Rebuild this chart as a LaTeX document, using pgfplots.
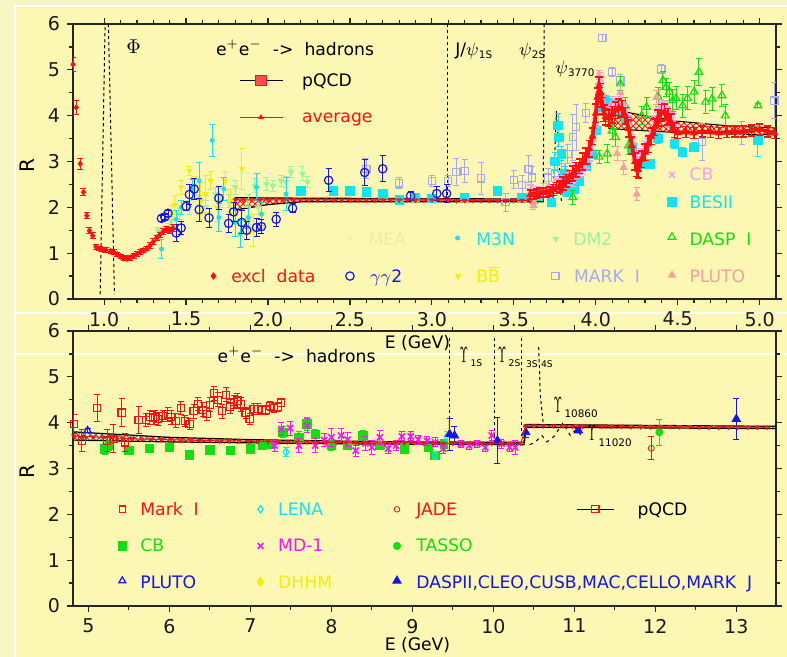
\documentclass[border=0pt]{standalone}
\usepackage{pgfplots}
\pgfplotsset{compat=1.18}
\usepackage{fontspec}
\setmainfont{DejaVu Sans}
\usetikzlibrary{patterns}
\definecolor{bgin}{HTML}{FCF8B3}
\definecolor{bgout}{HTML}{F9F6C6}
\definecolor{lav}{HTML}{A8A8F0}
\definecolor{cy}{HTML}{10E4F0}
\definecolor{lgreen}{HTML}{A0F0A0}
\definecolor{yel}{HTML}{F4EE00}
\definecolor{grn}{HTML}{10E010}
\definecolor{salmon}{HTML}{F5A0A0}
\definecolor{pinkcb}{HTML}{F5A0E8}
\definecolor{mea}{HTML}{F3ECA0}
\definecolor{mag}{HTML}{FF10FF}
\definecolor{bl}{HTML}{1414F0}
\definecolor{rd}{HTML}{FF1010}
\newcommand{\tf}{\fontsize{8.6}{10}\selectfont}
\newcommand{\subf}{\fontsize{5.2}{6}\selectfont}
\newcommand{\subg}{\fontsize{4.6}{5}\selectfont}
\newcommand{\ups}{{\fontsize{11}{11}\selectfont\scalebox{0.5}[1]{$\Upsilon$}}}
\pgfplotsset{
  rax/.style={scale only axis, width=351.5pt, height=137.5pt,
    ymin=0, ymax=6, ytick={0,1,...,6}, minor y tick num=1,
    axis line style={black!85, line width=0.6pt},
    tick style={black!85, line width=0.6pt},
    tick align=outside, major tick length=3pt, minor tick length=2pt,
    ticklabel style={font=\fontsize{9.5}{10}\selectfont, black!90},
    /pgf/number format/assume math mode=true, clip=true, clip mode=individual},
  ser/.style={only marks, mark options={solid},
    error bars/y dir=both, error bars/y explicit,
    error bars/error bar style={line width=0.5pt, solid},
    error bars/error mark options={rotate=90, line width=0.5pt, mark size=1.5pt}},
}
\begin{document}
\begin{tikzpicture}
\useasboundingbox (0,0) rectangle (393.5pt,328.5pt);
\fill[bgout] (0,0) rectangle (393.5pt,328.5pt);
\fill[bgin] (7.5pt,0) rectangle (393.5pt,325.5pt);
\draw[white, line width=0.7pt] (7.5pt,0) -- (7.5pt,325.5pt) -- (393.5pt,325.5pt);
\draw[white, line width=0.7pt] (7.5pt,172pt) -- (393.5pt,172pt);
\draw[white, line width=0.7pt] (7.5pt,151.5pt) -- (393.5pt,151.5pt);

% ================= TOP PANEL =================
\begin{axis}[rax, at={(36.5pt,179pt)}, anchor=south west,
  xmin=0.81, xmax=5.1, xtick={1,1.5,2,2.5,3,3.5,4,4.5,5}, minor x tick num=4,
  xticklabel={\pgfmathprintnumber[fixed,fixed zerofill,precision=1]{\tick}}]

% resonance dashed lines
\addplot[black, dash pattern=on 1.6pt off 1.4pt, line width=0.5pt] coordinates {(0.976,0.1) (1.006,6.0)};
\addplot[black, dash pattern=on 1.6pt off 1.4pt, line width=0.5pt] coordinates {(1.026,6.0) (1.063,0.1)};
\addplot[black, dash pattern=on 1.6pt off 1.4pt, line width=0.5pt] coordinates {(3.097,6.0) (3.097,2.25)};
\addplot[black, dash pattern=on 1.6pt off 1.4pt, line width=0.5pt] coordinates {(3.685,6.0) (3.680,2.25)};
\addplot[black, dash pattern=on 1.6pt off 1.4pt, line width=0.5pt] coordinates {(3.74,2.2) (3.76,4.1) (3.79,2.14)};

% pQCD bands
\addplot[draw=black, line width=0.6pt, pattern=crosshatch, pattern color=rd] coordinates {(1.8,2.21) (2.2,2.20) (3.68,2.18) (3.68,2.12) (2.2,2.12) (2.0,2.06) (1.8,1.94)} -- cycle;
\addplot[draw=black, line width=0.5pt, pattern=crosshatch, pattern color=rd] coordinates {(4.08,4.15) (4.3,4.0) (4.5,3.88) (4.8,3.78) (5.1,3.73) (5.1,3.58) (4.8,3.60) (4.5,3.63) (4.3,3.67) (4.08,3.72)} -- cycle;

% DM2
\addplot[lgreen, ser, mark=triangle*, mark size=1.6pt, mark options={rotate=180}] table[x=x,y=y,y error=e] {
x y e
1.33 1.49 0.08
1.39 1.56 0.08
1.41 1.70 0.10
1.46 1.86 0.12
1.52 2.00 0.15
1.58 2.22 0.15
1.62 2.00 0.15
1.68 2.29 0.15
1.71 2.14 0.15
1.76 2.14 0.15
1.80 2.44 0.15
1.88 2.14 0.15
1.92 2.47 0.15
1.94 2.00 0.15
1.99 2.51 0.15
2.03 2.47 0.12
2.08 2.58 0.12
2.11 2.55 0.12
2.14 2.76 0.12
2.21 2.73 0.15
2.24 2.55 0.12
};
% BBbar
\addplot[yel, ser, mark=triangle*, mark size=1.5pt, mark options={rotate=180}] table[x=x,y=y,y error=e] {
x y e
1.41 1.90 0.15
1.43 2.05 0.20
1.47 2.44 0.15
1.52 2.80 0.10
1.55 2.47 0.20
1.59 2.14 0.40
1.62 2.29 0.40
1.65 2.58 0.20
1.69 2.00 0.30
1.74 2.58 0.20
1.77 2.14 0.25
1.84 2.84 0.45
1.88 1.71 0.30
1.91 1.49 0.35
1.96 1.85 0.30
};
% M3N
\addplot[cy, ser, mark=*, mark size=1pt] table[x=x,y=y,y error=e] {
x y e
1.35 1.09 0.20
1.44 1.74 0.20
1.47 2.00 0.15
1.54 2.40 0.20
1.58 2.58 0.40
1.66 3.46 0.35
1.70 1.78 0.30
1.73 2.40 0.25
1.80 1.67 0.30
1.83 1.42 0.30
1.88 1.78 0.25
1.93 2.44 0.30
1.96 1.85 0.25
2.11 2.29 0.35
};
% MARK I
\addplot[lav, ser, mark=square, mark size=1.8pt, mark options={line width=0.6pt}] table[x=x,y=y,y error=e] {
x y e
2.60 2.84 0.22
2.80 2.52 0.12
3.00 2.58 0.12
3.10 2.58 0.12
3.15 2.77 0.30
3.20 2.79 0.25
3.30 2.63 0.35
3.45 2.11 0.20
3.50 2.60 0.20
3.55 2.49 0.20
3.59 2.84 0.30
3.61 2.65 0.25
3.71 2.65 0.20
3.75 2.75 0.20
3.79 2.87 0.20
3.83 3.16 0.20
3.86 3.53 0.50
3.88 3.75 0.50
3.94 4.06 0.20
4.04 5.70 0.08
4.10 4.95 0.10
4.15 4.77 0.12
4.40 5.01 0.10
4.45 3.83 0.15
4.65 3.42 0.40
4.89 3.62 0.25
5.09 4.33 0.40
};
% BESII
\addplot[cy, ser, mark=square*, mark size=2.1pt] table[x=x,y=y,y error=e] {
x y e
2.20 2.36 0.05
2.40 2.36 0.05
2.50 2.36 0.05
2.60 2.34 0.05
2.70 2.29 0.05
2.80 2.16 0.05
2.90 2.22 0.05
3.00 2.20 0.05
3.20 2.22 0.08
3.40 2.36 0.10
3.55 2.22 0.06
3.65 2.25 0.05
3.73 2.11 0.05
3.75 3.00 0.20
3.77 3.79 0.25
3.775 3.53 0.20
3.79 3.17 0.15
3.81 2.73 0.15
3.82 2.36 0.12
3.83 2.47 0.10
3.87 2.40 0.10
3.90 2.58 0.10
3.94 2.90 0.10
3.98 3.16 0.10
4.00 3.68 0.10
4.03 4.20 0.10
4.06 4.33 0.10
4.10 4.27 0.10
4.14 4.10 0.10
4.18 3.90 0.10
4.22 3.30 0.10
4.27 2.95 0.10
4.33 2.95 0.10
4.38 3.50 0.10
4.48 3.39 0.10
4.53 3.20 0.10
4.60 3.31 0.10
4.99 3.46 0.35
};
% DASP I
\addplot[grn, ser, mark=triangle, mark size=2.2pt, mark options={line width=0.6pt}] table[x=x,y=y,y error=e] {
x y e
3.62 2.14 0.08
3.86 2.22 0.15
4.02 3.10 0.15
4.07 3.17 0.20
4.10 3.67 0.20
4.12 3.53 0.20
4.15 4.70 0.15
4.18 4.20 0.20
4.20 3.35 0.20
4.28 4.00 0.20
4.31 4.19 0.20
4.38 4.41 0.20
4.41 4.77 0.20
4.43 4.62 0.20
4.45 4.52 0.20
4.47 4.33 0.25
4.49 4.38 0.25
4.53 4.22 0.25
4.56 4.38 0.25
4.60 4.52 0.25
4.63 4.95 0.30
4.67 4.30 0.25
4.71 4.37 0.25
4.77 4.44 0.25
4.79 4.00 0.25
4.99 4.22 0.05
};
% PLUTO (top)
\addplot[salmon, ser, mark=triangle*, mark size=2pt] table[x=x,y=y,y error=e] {
x y e
3.62 2.14 0.08
3.62 2.04 0.08
4.02 4.88 0.10
4.10 4.26 0.15
4.13 3.17 0.15
4.15 4.50 0.15
4.17 2.87 0.15
4.25 2.29 0.15
4.37 4.40 0.15
};
% CB (top)
\addplot[pinkcb, ser, mark=x, mark size=2.4pt, mark options={line width=0.9pt}, error bars/error mark options={rotate=90, line width=0.7pt, mark size=1.8pt}] table[x=x,y=y,y error=e] {
x y e
3.60 2.35 0.14
3.64 2.32 0.14
3.68 2.38 0.14
3.72 2.42 0.14
3.76 2.48 0.14
3.80 2.56 0.14
3.84 2.62 0.14
3.86 2.60 0.14
3.88 2.78 0.14
3.90 2.80 0.14
3.92 2.85 0.14
3.94 3.00 0.14
3.96 3.15 0.14
3.98 3.40 0.14
4.00 3.80 0.14
4.02 4.55 0.14
4.03 4.80 0.14
4.04 4.35 0.14
4.06 4.10 0.14
4.08 4.05 0.14
4.10 4.15 0.14
4.12 4.22 0.14
4.14 4.28 0.14
4.16 4.20 0.14
4.18 4.10 0.14
4.20 3.85 0.14
4.22 3.45 0.14
4.24 3.10 0.14
4.26 2.95 0.14
4.28 3.15 0.14
4.30 3.30 0.14
4.32 3.45 0.14
4.34 3.65 0.14
4.36 3.85 0.14
4.38 4.02 0.14
4.40 4.15 0.14
4.42 4.18 0.14
4.44 4.05 0.14
4.46 3.92 0.14
4.48 3.75 0.14
};
% gamma gamma 2
\addplot[bl, ser, mark=o, mark size=2.1pt, mark options={line width=0.6pt}] table[x=x,y=y,y error=e] {
x y e
1.35 1.76 0.06
1.37 1.79 0.06
1.39 1.87 0.06
1.44 1.44 0.18
1.47 1.55 0.15
1.50 2.02 0.10
1.52 2.28 0.22
1.55 2.40 0.22
1.58 1.95 0.25
1.64 1.77 0.20
1.70 2.20 0.25
1.76 1.65 0.20
1.79 1.90 0.20
1.84 1.67 0.25
1.87 1.50 0.20
1.93 1.56 0.20
1.96 1.58 0.15
2.05 1.74 0.15
2.15 1.98 0.10
2.37 2.59 0.25
2.59 2.76 0.28
2.70 2.84 0.28
2.87 2.25 0.10
3.03 2.30 0.15
3.09 2.30 0.20
};
% excl data (low energy)
\addplot[rd, ser, mark=diamond*, mark size=1.4pt] table[x=x,y=y,y error=e] {
x y e
0.81 5.12 0.15
0.83 4.18 0.15
0.854 2.95 0.12
0.874 2.33 0.08
0.894 1.82 0.06
0.91 1.49 0.06
0.93 1.38 0.06
0.95 1.14 0.05
0.97 1.10 0.05
0.99 1.08 0.05
1.01 1.07 0.05
1.04 1.04 0.05
1.06 1.02 0.05
1.08 0.97 0.05
1.10 0.93 0.05
1.12 0.89 0.05
1.14 0.88 0.05
1.16 0.90 0.05
1.18 0.94 0.05
1.20 0.98 0.05
1.22 1.02 0.05
1.24 1.06 0.05
1.26 1.10 0.05
1.28 1.17 0.06
1.30 1.25 0.06
1.32 1.33 0.06
1.34 1.40 0.06
1.36 1.47 0.06
1.38 1.52 0.06
1.40 1.50 0.07
1.42 1.55 0.08
};
% excl data / average in charm region
\addplot[rd, line width=1.8pt, mark=triangle*, mark size=1.8pt, mark options={solid, line width=0.5pt},
  error bars/y dir=both, error bars/y explicit, error bars/error bar style={line width=0.8pt},
  error bars/error mark options={rotate=90, line width=0.8pt, mark size=1.8pt}] table[x=x,y=y,y error=e] {
x y e
3.60 2.28 0.10
3.62 2.28 0.10
3.64 2.30 0.10
3.66 2.32 0.10
3.68 2.32 0.10
3.70 2.33 0.10
3.72 2.35 0.10
3.74 2.38 0.12
3.76 2.42 0.12
3.78 2.46 0.12
3.80 2.52 0.14
3.82 2.58 0.14
3.84 2.66 0.14
3.86 2.74 0.16
3.88 2.82 0.16
3.90 2.90 0.16
3.92 3.00 0.18
3.94 3.12 0.18
3.96 3.28 0.18
3.98 3.55 0.18
4.00 4.05 0.20
4.01 4.40 0.20
4.02 4.65 0.20
4.03 4.50 0.20
4.04 4.22 0.18
4.05 4.05 0.18
4.06 3.98 0.18
4.08 3.95 0.18
4.10 4.02 0.18
4.12 4.12 0.18
4.14 4.18 0.18
4.16 4.15 0.18
4.18 4.00 0.18
4.20 3.72 0.18
4.22 3.35 0.18
4.24 3.00 0.18
4.25 2.85 0.18
4.26 2.82 0.18
4.28 3.05 0.18
4.30 3.20 0.18
4.32 3.38 0.18
4.34 3.55 0.18
4.36 3.75 0.18
4.38 3.95 0.18
4.40 4.06 0.18
4.42 4.08 0.18
4.44 3.98 0.18
4.46 3.85 0.18
4.48 3.68 0.16
4.50 3.62 0.12
4.55 3.64 0.12
4.60 3.62 0.12
4.65 3.66 0.12
4.70 3.64 0.12
4.75 3.62 0.12
4.80 3.64 0.12
4.85 3.65 0.12
4.90 3.66 0.12
4.95 3.68 0.12
5.00 3.70 0.12
5.05 3.66 0.12
5.09 3.62 0.12
};
% average along pQCD
\addplot[rd, line width=0.5pt, mark=triangle, mark size=1.1pt, mark options={solid, rotate=180}] table[x=x,y=y] {
x y
1.80 2.16
1.85 2.16
1.90 2.16
1.95 2.16
2.00 2.16
2.05 2.16
2.10 2.16
2.15 2.16
2.20 2.16
2.25 2.16
2.30 2.16
2.35 2.16
2.40 2.16
2.45 2.16
2.50 2.16
2.55 2.16
2.60 2.16
2.65 2.16
2.70 2.16
2.75 2.16
2.80 2.16
2.85 2.16
2.90 2.16
2.95 2.16
3.00 2.16
3.05 2.16
3.10 2.16
3.15 2.15
3.20 2.15
3.25 2.15
3.30 2.15
3.35 2.15
3.40 2.15
3.45 2.15
3.50 2.15
3.55 2.15
3.60 2.15
};

% legend symbols (top)
\addplot[black, line width=0.6pt] coordinates {(1.829,4.77) (2.09,4.77)};
\addplot[only marks, mark=square*, mark size=2.6pt, mark options={draw=rd, fill=rd!75}] coordinates {(1.957,4.77)};
\addplot[rd, line width=0.6pt] coordinates {(1.829,3.96) (2.09,3.96)};
\addplot[rd, only marks, mark=triangle*, mark size=1.3pt] coordinates {(1.957,3.96)};
\addplot[rd, only marks, mark=diamond*, mark size=1.6pt] coordinates {(1.667,0.50)};
\addplot[bl, only marks, mark=o, mark size=2.1pt, mark options={line width=0.6pt}] coordinates {(2.50,0.50)};
\addplot[mea, only marks, mark=+, mark size=1.5pt] coordinates {(2.50,1.33)};
\addplot[cy, only marks, mark=*, mark size=1pt] coordinates {(3.157,1.33)};
\addplot[yel, only marks, mark=triangle*, mark size=1.5pt, mark options={rotate=180}] coordinates {(3.16,0.50)};
\addplot[lgreen, only marks, mark=triangle*, mark size=1.5pt, mark options={rotate=180}] coordinates {(3.756,1.31)};
\addplot[lav, only marks, mark=square, mark size=1.8pt, mark options={line width=0.6pt}] coordinates {(3.754,0.50)};
\addplot[grn, only marks, mark=triangle, mark size=2.2pt, mark options={line width=0.6pt}] coordinates {(4.465,1.35)};
\addplot[salmon, only marks, mark=triangle*, mark size=2pt] coordinates {(4.465,0.52)};
\addplot[pinkcb, only marks, mark=x, mark size=2.2pt, mark options={line width=0.8pt}] coordinates {(4.465,2.71)};
\addplot[cy, only marks, mark=square*, mark size=2.1pt] coordinates {(4.465,2.12)};

% texts (top)
\node[anchor=base west, font=\fontsize{10}{10}\selectfont] at (axis cs:1.093,5.35) {$\Phi$};
\node[anchor=base west, font=\tf] at (axis cs:1.64,5.32) {e$^{+}$e$^{-}$\ \ ->\ \ hadrons};
\node[anchor=base west, font=\tf] at (axis cs:2.165,4.64) {pQCD};
\node[anchor=base west, font=\tf, text=rd] at (axis cs:2.165,3.84) {average};
\node[anchor=base west, font=\tf] at (axis cs:3.10,5.32) {J/$\psi$\raisebox{-1.5pt}{\subf 1S}};
\node[anchor=base west, font=\tf] at (axis cs:3.49,5.32) {$\psi$\raisebox{-1.5pt}{\subf 2S}};
\node[anchor=base west, font=\tf] at (axis cs:3.71,4.92) {$\psi$\raisebox{-1.5pt}{\subf 3770}};
\node[anchor=base west, font=\tf, text=mea] at (axis cs:2.571,1.16) {MEA};
\node[anchor=base west, font=\tf, text=cy] at (axis cs:3.228,1.16) {M3N};
\node[anchor=base west, font=\tf, text=lgreen] at (axis cs:3.82,1.16) {DM2};
\node[anchor=base west, font=\tf, text=grn] at (axis cs:4.529,1.16) {DASP\ \ I};
\node[anchor=base west, font=\tf, text=rd] at (axis cs:1.733,0.357) {excl\ \ data};
\node[anchor=base west, font=\tf, text=bl] at (axis cs:2.58,0.357) {$\gamma\gamma$2};
\node[anchor=base west, font=\tf, text=yel] at (axis cs:3.228,0.357) {B$\overline{\hbox{B}}$};
\node[anchor=base west, font=\tf, text=lav] at (axis cs:3.825,0.357) {MARK\ \ I};
\node[anchor=base west, font=\tf, text=salmon] at (axis cs:4.529,0.357) {PLUTO};
\node[anchor=base west, font=\tf, text=pinkcb] at (axis cs:4.529,2.58) {CB};
\node[anchor=base west, font=\tf, text=cy] at (axis cs:4.529,1.98) {BESII};
\node[rotate=90, font=\fontsize{10}{10}\selectfont] at (axis description cs:-0.065,0.485) {R};
\node[font=\tf, inner sep=0pt] at (axis description cs:0.49,-0.16) {E\ (GeV)};
\end{axis}

% ================= BOTTOM PANEL =================
\begin{axis}[rax, at={(36.5pt,25.5pt)}, anchor=south west,
  xmin=4.81, xmax=13.49, xtick={5,6,...,13}, minor x tick num=1]

% resonances
\addplot[black, dash pattern=on 1.6pt off 1.4pt, line width=0.5pt] coordinates {(9.455,5.85) (9.455,3.6)};
\addplot[black, dash pattern=on 1.6pt off 1.4pt, line width=0.5pt] coordinates {(10.02,5.85) (10.02,3.6)};
\addplot[black, dash pattern=on 1.6pt off 1.4pt, line width=0.5pt] coordinates {(10.35,5.85) (10.35,3.7)};
\addplot[black, dash pattern=on 1.6pt off 1.4pt, line width=0.5pt] coordinates {(10.56,5.65) (10.58,4.6) (10.62,3.9)};
\addplot[black, dash pattern=on 1.6pt off 2.2pt, line width=0.5pt] coordinates {(10.45,3.52) (10.52,3.58) (10.60,3.72) (10.66,3.58) (10.75,3.70) (10.86,4.0) (10.95,3.72) (11.02,3.85) (11.10,3.70)};

% pQCD band
\addplot[draw=black, line width=0.6pt, pattern=crosshatch, pattern color=black!60] coordinates {(4.81,3.80) (6,3.68) (7,3.63) (8,3.60) (9,3.58) (10.38,3.57) (10.38,3.52) (9,3.53) (8,3.54) (7,3.56) (6,3.58) (4.81,3.62)} -- cycle;
\addplot[draw=black, line width=0.6pt, pattern=crosshatch, pattern color=black!60] coordinates {(10.40,3.96) (13.49,3.92) (13.49,3.87) (10.40,3.90)} -- cycle;
\addplot[black, line width=0.9pt] coordinates {(10.38,3.55) (10.40,3.93)};

% CB
\addplot[grn, ser, mark=square*, mark size=2.1pt] table[x=x,y=y,y error=e] {
x y e
5.20 3.43 0.12
5.26 3.50 0.10
5.50 3.39 0.08
5.75 3.44 0.08
6.00 3.46 0.08
6.25 3.30 0.08
6.50 3.41 0.08
6.75 3.39 0.08
7.00 3.43 0.08
7.15 3.50 0.08
7.23 3.53 0.08
7.40 3.79 0.12
7.60 3.68 0.12
7.70 3.97 0.15
7.80 3.75 0.10
8.00 3.50 0.10
8.20 3.50 0.08
8.39 3.72 0.10
8.60 3.50 0.08
8.90 3.43 0.08
9.20 3.46 0.08
9.28 3.28 0.08
9.40 3.54 0.08
};
% LENA
\addplot[cy, ser, mark=diamond, mark size=2pt, mark options={line width=0.6pt}] table[x=x,y=y,y error=e] {
x y e
7.44 3.36 0.10
9.28 3.28 0.08
9.43 3.70 0.10
};
% MD-1
\addplot[mag, ser, mark=x, mark size=2.2pt, mark options={line width=0.8pt}] table[x=x,y=y,y error=e] {
x y e
7.30 3.50 0.12
7.38 3.86 0.15
7.49 3.88 0.15
7.60 3.50 0.15
7.70 3.93 0.15
7.80 3.50 0.15
7.91 3.62 0.15
8.00 3.68 0.20
8.12 3.72 0.15
8.20 3.63 0.15
8.30 3.39 0.12
8.42 3.55 0.15
8.50 3.46 0.15
8.60 3.68 0.15
8.70 3.43 0.10
8.80 3.50 0.10
8.87 3.70 0.10
8.98 3.70 0.10
9.07 3.63 0.10
9.18 3.60 0.10
9.28 3.57 0.10
9.38 3.43 0.10
9.60 3.54 0.08
9.70 3.50 0.08
9.80 3.54 0.08
9.90 3.46 0.08
9.98 3.72 0.12
10.10 3.54 0.10
10.20 3.46 0.10
10.27 3.46 0.15
};
% Mark I
\addplot[rd, ser, mark=square, mark size=1.8pt, mark options={line width=0.6pt}] table[x=x,y=y,y error=e] {
x y e
4.82 3.97 0.20
4.92 3.61 0.25
5.11 4.32 0.30
5.23 3.61 0.25
5.31 3.65 0.30
5.41 4.22 0.30
5.45 3.57 0.20
5.62 4.06 0.30
5.71 4.06 0.15
5.76 4.12 0.15
5.80 4.10 0.15
5.82 4.12 0.15
5.86 4.08 0.15
5.92 4.15 0.12
5.98 4.18 0.15
6.02 4.12 0.15
6.08 4.04 0.15
6.14 4.32 0.15
6.19 4.04 0.12
6.25 3.97 0.12
6.30 4.25 0.15
6.35 4.41 0.15
6.41 4.28 0.15
6.46 4.19 0.15
6.50 4.39 0.15
6.55 4.64 0.15
6.60 4.50 0.15
6.65 4.25 0.15
6.70 4.61 0.15
6.75 4.35 0.15
6.80 4.45 0.15
6.84 4.48 0.15
6.88 4.40 0.15
6.94 4.22 0.12
6.99 4.08 0.12
7.04 4.30 0.12
7.09 4.30 0.12
7.14 4.28 0.10
7.19 4.28 0.10
7.24 4.37 0.10
7.29 4.32 0.10
7.34 4.34 0.10
7.38 4.44 0.08
};
% PLUTO (bottom)
\addplot[bl, ser, mark=triangle, mark size=2pt, mark options={line width=0.6pt}] table[x=x,y=y,y error=e] {
x y e
4.99 3.83 0.05
};
% DHHM
\addplot[yel, ser, mark=diamond*, mark size=2pt] table[x=x,y=y,y error=e] {
x y e
9.45 3.75 0.35
};
% JADE
\addplot[rd, ser, mark=o, mark size=1.5pt] table[x=x,y=y,y error=e] {
x y e
11.95 3.44 0.25
};
% TASSO
\addplot[grn, ser, mark=*, mark size=1.8pt] table[x=x,y=y,y error=e] {
x y e
12.05 3.79 0.28
};
% DASPII, CLEO, ...
\addplot[bl, ser, mark=triangle*, mark size=2.4pt] table[x=x,y=y,y error=e] {
x y e
9.46 3.75 0.35
9.52 3.72 0.20
10.05 3.61 0.50
10.40 3.79 0.12
11.05 3.83 0.05
13.00 4.08 0.45
};
% average
\addplot[rd, line width=0.5pt, mark=triangle, mark size=1.1pt, mark options={solid, rotate=180}] table[x=x,y=y] {
x y
4.82 3.71
4.94 3.70
5.06 3.69
5.18 3.68
5.30 3.67
5.42 3.66
5.54 3.65
5.66 3.64
5.78 3.64
5.90 3.63
6.02 3.63
6.14 3.62
6.26 3.62
6.38 3.61
6.50 3.61
6.62 3.60
6.74 3.60
6.86 3.60
6.98 3.59
7.10 3.59
7.22 3.59
7.34 3.58
7.46 3.58
7.58 3.58
7.70 3.58
7.82 3.57
7.94 3.57
8.06 3.57
8.18 3.57
8.30 3.57
8.42 3.56
8.54 3.56
8.66 3.56
8.78 3.56
8.90 3.56
9.02 3.56
9.14 3.55
9.26 3.55
9.38 3.55
9.50 3.55
9.62 3.55
9.74 3.55
9.86 3.55
9.98 3.55
10.10 3.55
10.22 3.55
10.34 3.55
10.40 3.93
10.50 3.93
10.62 3.93
10.74 3.93
10.86 3.93
10.98 3.92
11.10 3.92
11.22 3.92
11.34 3.92
11.46 3.92
11.58 3.92
11.70 3.91
11.82 3.91
11.94 3.91
12.06 3.91
12.18 3.91
12.30 3.91
12.42 3.91
12.54 3.90
12.66 3.90
12.78 3.90
12.90 3.90
13.02 3.90
13.14 3.90
13.26 3.90
13.38 3.90
};

% legend symbols (bottom)
\addplot[rd, only marks, mark=square, mark size=1.6pt, mark options={line width=0.6pt}] coordinates {(5.419,2.11)};
\addplot[cy, only marks, mark=diamond, mark size=1.8pt, mark options={line width=0.6pt}] coordinates {(7.125,2.11)};
\addplot[rd, only marks, mark=o, mark size=1.4pt] coordinates {(8.81,2.11)};
\addplot[black, line width=0.6pt] coordinates {(11.037,2.11) (11.49,2.11)};
\addplot[rd, only marks, mark=square, mark size=1.8pt, mark options={line width=0.6pt}] coordinates {(11.26,2.11)};
\addplot[grn, only marks, mark=square*, mark size=2.1pt] coordinates {(5.419,1.31)};
\addplot[mag, only marks, mark=x, mark size=2pt, mark options={line width=0.8pt}] coordinates {(7.125,1.31)};
\addplot[grn, only marks, mark=*, mark size=1.8pt] coordinates {(8.81,1.31)};
\addplot[bl, only marks, mark=triangle, mark size=2pt, mark options={line width=0.6pt}] coordinates {(5.419,0.55)};
\addplot[yel, only marks, mark=diamond*, mark size=2.2pt] coordinates {(7.125,0.53)};
\addplot[bl, only marks, mark=triangle*, mark size=2.4pt] coordinates {(8.81,0.55)};

% texts (bottom)
\node[anchor=base west, font=\tf] at (axis cs:6.508,5.31) {e$^{+}$e$^{-}$\ \ ->\ \ hadrons};
\node[anchor=base west, inner xsep=0pt] at (axis cs:9.58,5.32) {\ups\kern1.2pt\raisebox{-2.4pt}{\subg 1S}};
\node[anchor=base west, inner xsep=0pt] at (axis cs:10.05,5.32) {\ups\kern1.2pt\raisebox{-2.4pt}{\subg 2S}};
\node[anchor=base west, inner xsep=0pt, font=\subg] at (axis cs:10.40,5.21) {3S};
\node[anchor=base west, inner xsep=0pt, font=\subg] at (axis cs:10.585,5.21) {4S};
\node[anchor=base west, inner xsep=0pt] at (axis cs:10.74,4.22) {\ups\kern1.2pt\raisebox{-2.4pt}{\subf 10860}};
\node[anchor=base west, inner xsep=0pt] at (axis cs:11.16,3.60) {\ups\kern1.2pt\raisebox{-2.8pt}{\subf 11020}};
\node[anchor=base west, font=\tf, text=rd] at (axis cs:5.555,1.98) {Mark\ \ I};
\node[anchor=base west, font=\tf, text=cy] at (axis cs:7.256,1.98) {LENA};
\node[anchor=base west, font=\tf, text=rd] at (axis cs:8.962,1.98) {JADE};
\node[anchor=base west, font=\tf] at (axis cs:11.695,1.98) {pQCD};
\node[anchor=base west, font=\tf, text=grn] at (axis cs:5.555,1.18) {CB};
\node[anchor=base west, font=\tf, text=mag] at (axis cs:7.256,1.18) {MD-1};
\node[anchor=base west, font=\tf, text=grn] at (axis cs:8.962,1.18) {TASSO};
\node[anchor=base west, font=\tf, text=bl] at (axis cs:5.555,0.385) {PLUTO};
\node[anchor=base west, font=\tf, text=yel] at (axis cs:7.256,0.385) {DHHM};
\node[anchor=base west, font=\tf, text=bl] at (axis cs:8.962,0.385) {DASPII,CLEO,CUSB,MAC,CELLO,MARK\ \ J};
\node[rotate=90, font=\fontsize{10}{10}\selectfont] at (axis description cs:-0.065,0.49) {R};
\node[font=\tf, inner sep=0pt] at (axis description cs:0.49,-0.141) {E\ (GeV)};
\end{axis}
\end{tikzpicture}
\end{document}
